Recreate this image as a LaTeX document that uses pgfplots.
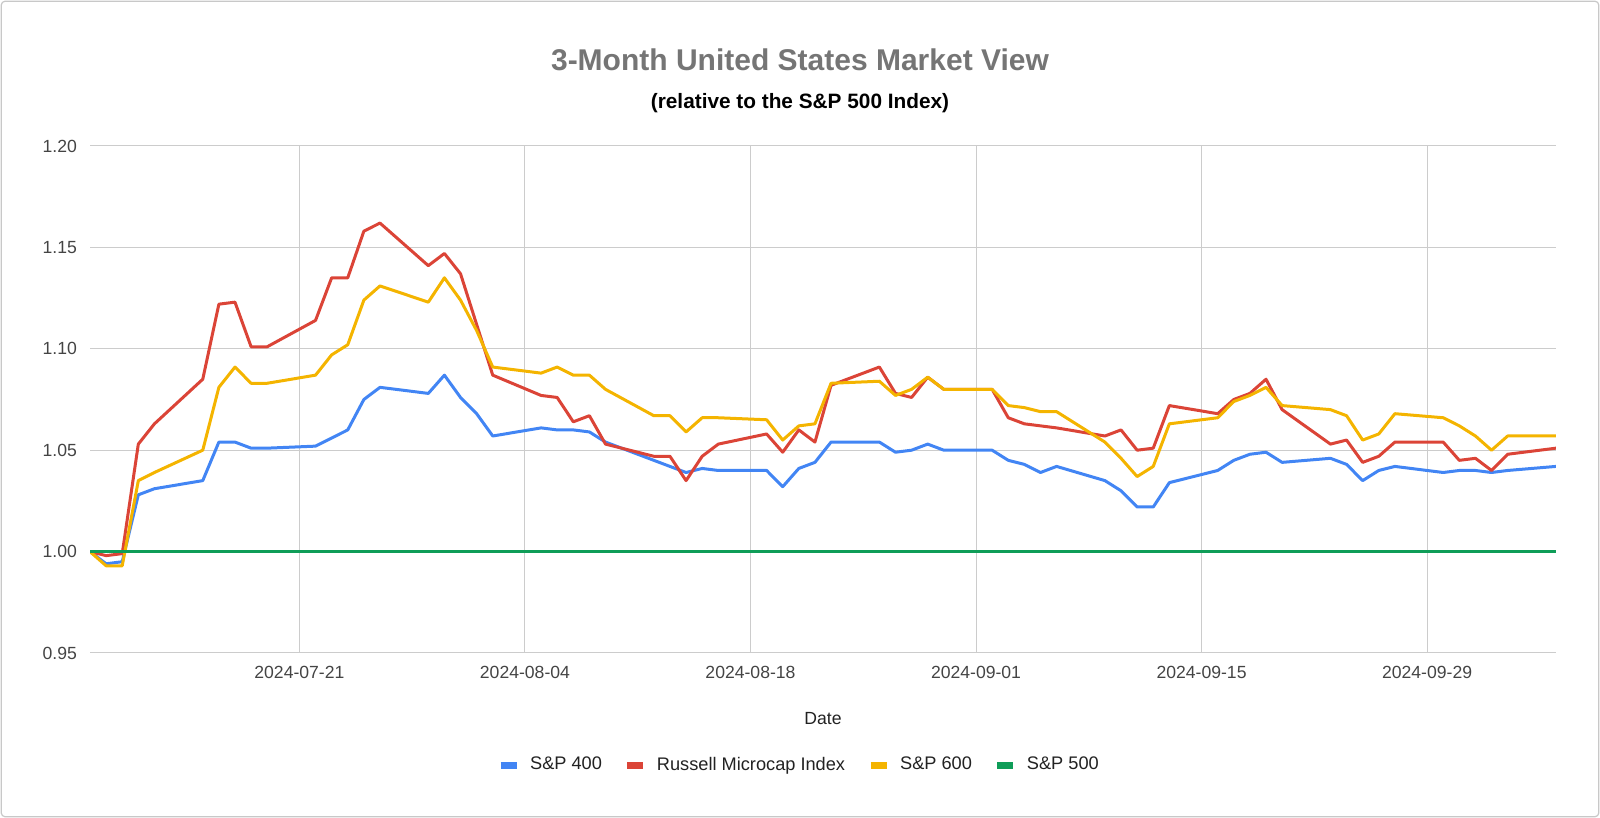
\documentclass[border=0pt]{standalone}
\usepackage{fontspec}
\setmainfont{Liberation Sans}
\usepackage{pgfplots}
\pgfplotsset{compat=1.18}
\usepackage{pgfplotstable}
\definecolor{cBlue}{HTML}{4285F4}
\definecolor{cRed}{HTML}{DB4437}
\definecolor{cYellow}{HTML}{F4B400}
\definecolor{cGreen}{HTML}{0F9D58}
\definecolor{cGrid}{HTML}{CCCCCC}
\definecolor{cTitle}{HTML}{757575}
\definecolor{cTick}{HTML}{444444}
\definecolor{cText}{HTML}{222222}
\definecolor{cFrame}{HTML}{C8C8C8}

\pgfplotstableread{
d b r y
-13 1.000 1.000 1.000
-12 0.994 0.998 0.993
-11 0.995 0.999 0.993
-10 1.028 1.053 1.035
-9 1.031 1.063 1.039
-6 1.035 1.085 1.050
-5 1.054 1.122 1.081
-4 1.054 1.123 1.091
-3 1.051 1.101 1.083
-2 1.051 1.101 1.083
1 1.052 1.114 1.087
2 1.056 1.135 1.097
3 1.060 1.135 1.102
4 1.075 1.158 1.124
5 1.081 1.162 1.131
8 1.078 1.141 1.123
9 1.087 1.147 1.135
10 1.076 1.137 1.124
11 1.068 1.112 1.109
12 1.057 1.087 1.091
15 1.061 1.077 1.088
16 1.060 1.076 1.091
17 1.060 1.064 1.087
18 1.059 1.067 1.087
19 1.054 1.053 1.080
22 1.045 1.047 1.067
23 1.042 1.047 1.067
24 1.039 1.035 1.059
25 1.041 1.047 1.066
26 1.040 1.053 1.066
29 1.040 1.058 1.065
30 1.032 1.049 1.055
31 1.041 1.060 1.062
32 1.044 1.054 1.063
33 1.054 1.082 1.083
36 1.054 1.091 1.084
37 1.049 1.078 1.077
38 1.050 1.076 1.080
39 1.053 1.086 1.086
40 1.050 1.080 1.080
43 1.050 1.080 1.080
44 1.045 1.066 1.072
45 1.043 1.063 1.071
46 1.039 1.062 1.069
47 1.042 1.061 1.069
50 1.035 1.057 1.054
51 1.030 1.060 1.046
52 1.022 1.050 1.037
53 1.022 1.051 1.042
54 1.034 1.072 1.063
57 1.040 1.068 1.066
58 1.045 1.075 1.074
59 1.048 1.078 1.077
60 1.049 1.085 1.081
61 1.044 1.070 1.072
64 1.046 1.053 1.070
65 1.043 1.055 1.067
66 1.035 1.044 1.055
67 1.040 1.047 1.058
68 1.042 1.054 1.068
71 1.039 1.054 1.066
72 1.040 1.045 1.062
73 1.040 1.046 1.057
74 1.039 1.040 1.050
75 1.040 1.048 1.057
78 1.042 1.051 1.057
}\data

\pgfplotstableread{
d v
-13 1.000
78 1.000
}\base

\begin{document}
\begin{tikzpicture}[x=1pt,y=1pt]
\path (0,0) rectangle (800,409);
\draw[draw=cFrame, line width=0.6pt, rounded corners=2pt] (0.6,0.6) rectangle (799.4,408.4);
\node[font=\fontsize{15}{18}\selectfont\bfseries, text=cTitle] at (400,379) {3-Month United States Market View};
\node[font=\fontsize{10.4}{12}\selectfont\bfseries, text=black] at (400,357.5) {(relative to the S\&P 500 Index)};
\begin{axis}[
  at={(45pt,82.5pt)}, anchor=south west,
  scale only axis, width=733pt, height=253.5pt,
  xmin=-13, xmax=78, ymin=0.95, ymax=1.20,
  ytick={0.95,1.00,1.05,1.10,1.15,1.20},
  yticklabel style={/pgf/number format/fixed, /pgf/number format/fixed zerofill, /pgf/number format/precision=2, xshift=-3pt},
  xtick={0,14,28,42,56,70},
  xticklabels={2024-07-21,2024-08-04,2024-08-18,2024-09-01,2024-09-15,2024-09-29},
  grid=major,
  major grid style={draw=cGrid, line width=0.5pt},
  axis line style={draw=none},
  tick style={draw=none},
  /pgf/number format/assume math mode=true,
  ticklabel style={font=\fontsize{8.8}{10}\selectfont, text=cTick},
  xticklabel style={yshift=-3pt},
  xlabel={Date},
  xlabel style={at={(axis description cs:0.5,-0.13)}, anchor=center, font=\fontsize{8.8}{10}\selectfont, text=cText},
  legend style={at={(axis description cs:0.4843,-0.221)}, anchor=center, draw=none, fill=none,
    legend columns=4, font=\fontsize{9.1}{10}\selectfont, text=cText,
    /tikz/every odd column/.append style={column sep=3pt},
    /tikz/every even column/.append style={column sep=9pt}},
  legend image code/.code={\draw[#1, line width=3.5pt, line cap=butt] (0pt,0pt) -- (8pt,0pt);},
  every axis plot/.append style={line width=1.5pt, line join=round, no marks},
]
\addplot[cBlue] table[x=d, y=b] {\data};
\addlegendentry{S\&P 400}
\addplot[cRed] table[x=d, y=r] {\data};
\addlegendentry{Russell Microcap Index}
\addplot[cYellow] table[x=d, y=y] {\data};
\addlegendentry{S\&P 600}
\addplot[cGreen] table[x=d, y=v] {\base};
\addlegendentry{S\&P 500}
\end{axis}
\end{tikzpicture}
\end{document}
